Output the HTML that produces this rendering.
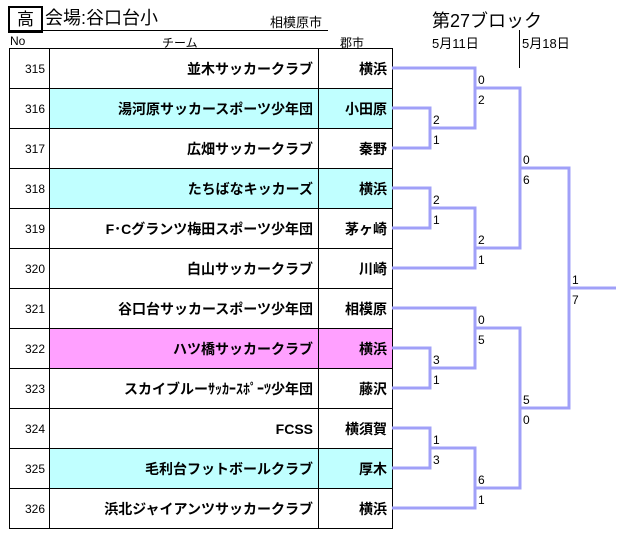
<!DOCTYPE html>
<html><head><meta charset="utf-8"><style>
body{margin:0;width:625px;height:552px;background:#fff;position:relative;overflow:hidden;font-family:"Liberation Sans","Noto Sans CJK JP",sans-serif;color:#000}
.a{position:absolute;white-space:nowrap}
table{position:absolute;left:9px;top:48px;border-collapse:collapse;table-layout:fixed;width:383px}
td{border:1px solid #000;height:39px;padding:0 5px;font-size:14px;text-align:right;font-weight:bold;overflow:hidden;white-space:nowrap}
td.n{font-weight:normal;font-size:12px;padding:0 4px 0 0}
.cy{background:#c0ffff}.pk{background:#ffa0ff}
</style></head><body>
<div class="a" style="left:8px;top:6px;width:31px;height:23px;border:2px solid #000;font-size:17px;text-align:center;line-height:23px">高</div>
<div class="a" style="left:45px;top:6px;font-size:18px;line-height:24px">会場:谷口台小</div>
<div class="a" style="left:270px;top:12px;font-size:13px">相模原市</div>
<div class="a" style="left:8px;top:30px;width:320px;border-top:1px solid #000"></div>
<div class="a" style="left:432px;top:7px;font-size:18px">第27ブロック</div>
<div class="a" style="left:10px;top:34px;font-size:12px">No</div>
<div class="a" style="left:162px;top:34px;font-size:12px">チーム</div>
<div class="a" style="left:340px;top:34px;font-size:12px">郡市</div>
<div class="a" style="left:432px;top:33px;font-size:13px">5月11日</div>
<div class="a" style="left:519px;top:30px;height:38px;border-left:1px solid #000"></div>
<div class="a" style="left:522px;top:33px;font-size:13px">5月18日</div>
<table>
<colgroup><col style="width:40px"><col style="width:269px"><col style="width:74px"></colgroup>
<tr><td class="n">315</td><td>並木サッカークラブ</td><td>横浜</td></tr>
<tr class="cy"><td class="n" style="background:#fff">316</td><td>湯河原サッカースポーツ少年団</td><td>小田原</td></tr>
<tr><td class="n">317</td><td>広畑サッカークラブ</td><td>秦野</td></tr>
<tr class="cy"><td class="n" style="background:#fff">318</td><td>たちばなキッカーズ</td><td>横浜</td></tr>
<tr><td class="n">319</td><td>F･Cグランツ梅田スポーツ少年団</td><td>茅ヶ崎</td></tr>
<tr><td class="n">320</td><td>白山サッカークラブ</td><td>川崎</td></tr>
<tr><td class="n">321</td><td>谷口台サッカースポーツ少年団</td><td>相模原</td></tr>
<tr class="pk"><td class="n" style="background:#fff">322</td><td>ハツ橋サッカークラブ</td><td>横浜</td></tr>
<tr><td class="n">323</td><td>スカイブルーｻｯｶｰｽﾎﾟｰﾂ少年団</td><td>藤沢</td></tr>
<tr><td class="n">324</td><td>FCSS</td><td>横須賀</td></tr>
<tr class="cy"><td class="n" style="background:#fff">325</td><td>毛利台フットボールクラブ</td><td>厚木</td></tr>
<tr><td class="n">326</td><td>浜北ジャイアンツサッカークラブ</td><td>横浜</td></tr>
</table>
<svg class="a" style="left:0;top:0" width="625" height="552">
<g fill="none" stroke="#a0a0f8" stroke-width="3">
<polyline points="392,68 475,68 475,128 430,128"/>
<polyline points="392,108 430,108 430,148 392,148"/>
<polyline points="392,188 430,188 430,228 392,228"/>
<polyline points="430,208 475,208 475,268 392,268"/>
<polyline points="475,88 520,88 520,248 475,248"/>
<polyline points="392,308 475,308 475,368 430,368"/>
<polyline points="392,348 430,348 430,388 392,388"/>
<polyline points="392,428 430,428 430,468 392,468"/>
<polyline points="430,448 475,448 475,508 392,508"/>
<polyline points="475,328 520,328 520,488 475,488"/>
<polyline points="520,168 569,168 569,408 520,408"/>
<line x1="569" y1="288" x2="616" y2="288"/>
</g>
<g font-family="Liberation Sans, sans-serif" font-size="12" fill="#000">
<text x="478" y="84">0</text><text x="478" y="104">2</text>
<text x="433" y="124">2</text><text x="433" y="144">1</text>
<text x="433" y="204">2</text><text x="433" y="224">1</text>
<text x="478" y="244">2</text><text x="478" y="264">1</text>
<text x="523" y="164">0</text><text x="523" y="184">6</text>
<text x="572" y="284">1</text><text x="572" y="304">7</text>
<text x="478" y="324">0</text><text x="478" y="344">5</text>
<text x="433" y="364">3</text><text x="433" y="384">1</text>
<text x="433" y="444">1</text><text x="433" y="464">3</text>
<text x="478" y="484">6</text><text x="478" y="504">1</text>
<text x="523" y="404">5</text><text x="523" y="424">0</text>
</g>
</svg>
</body></html>
